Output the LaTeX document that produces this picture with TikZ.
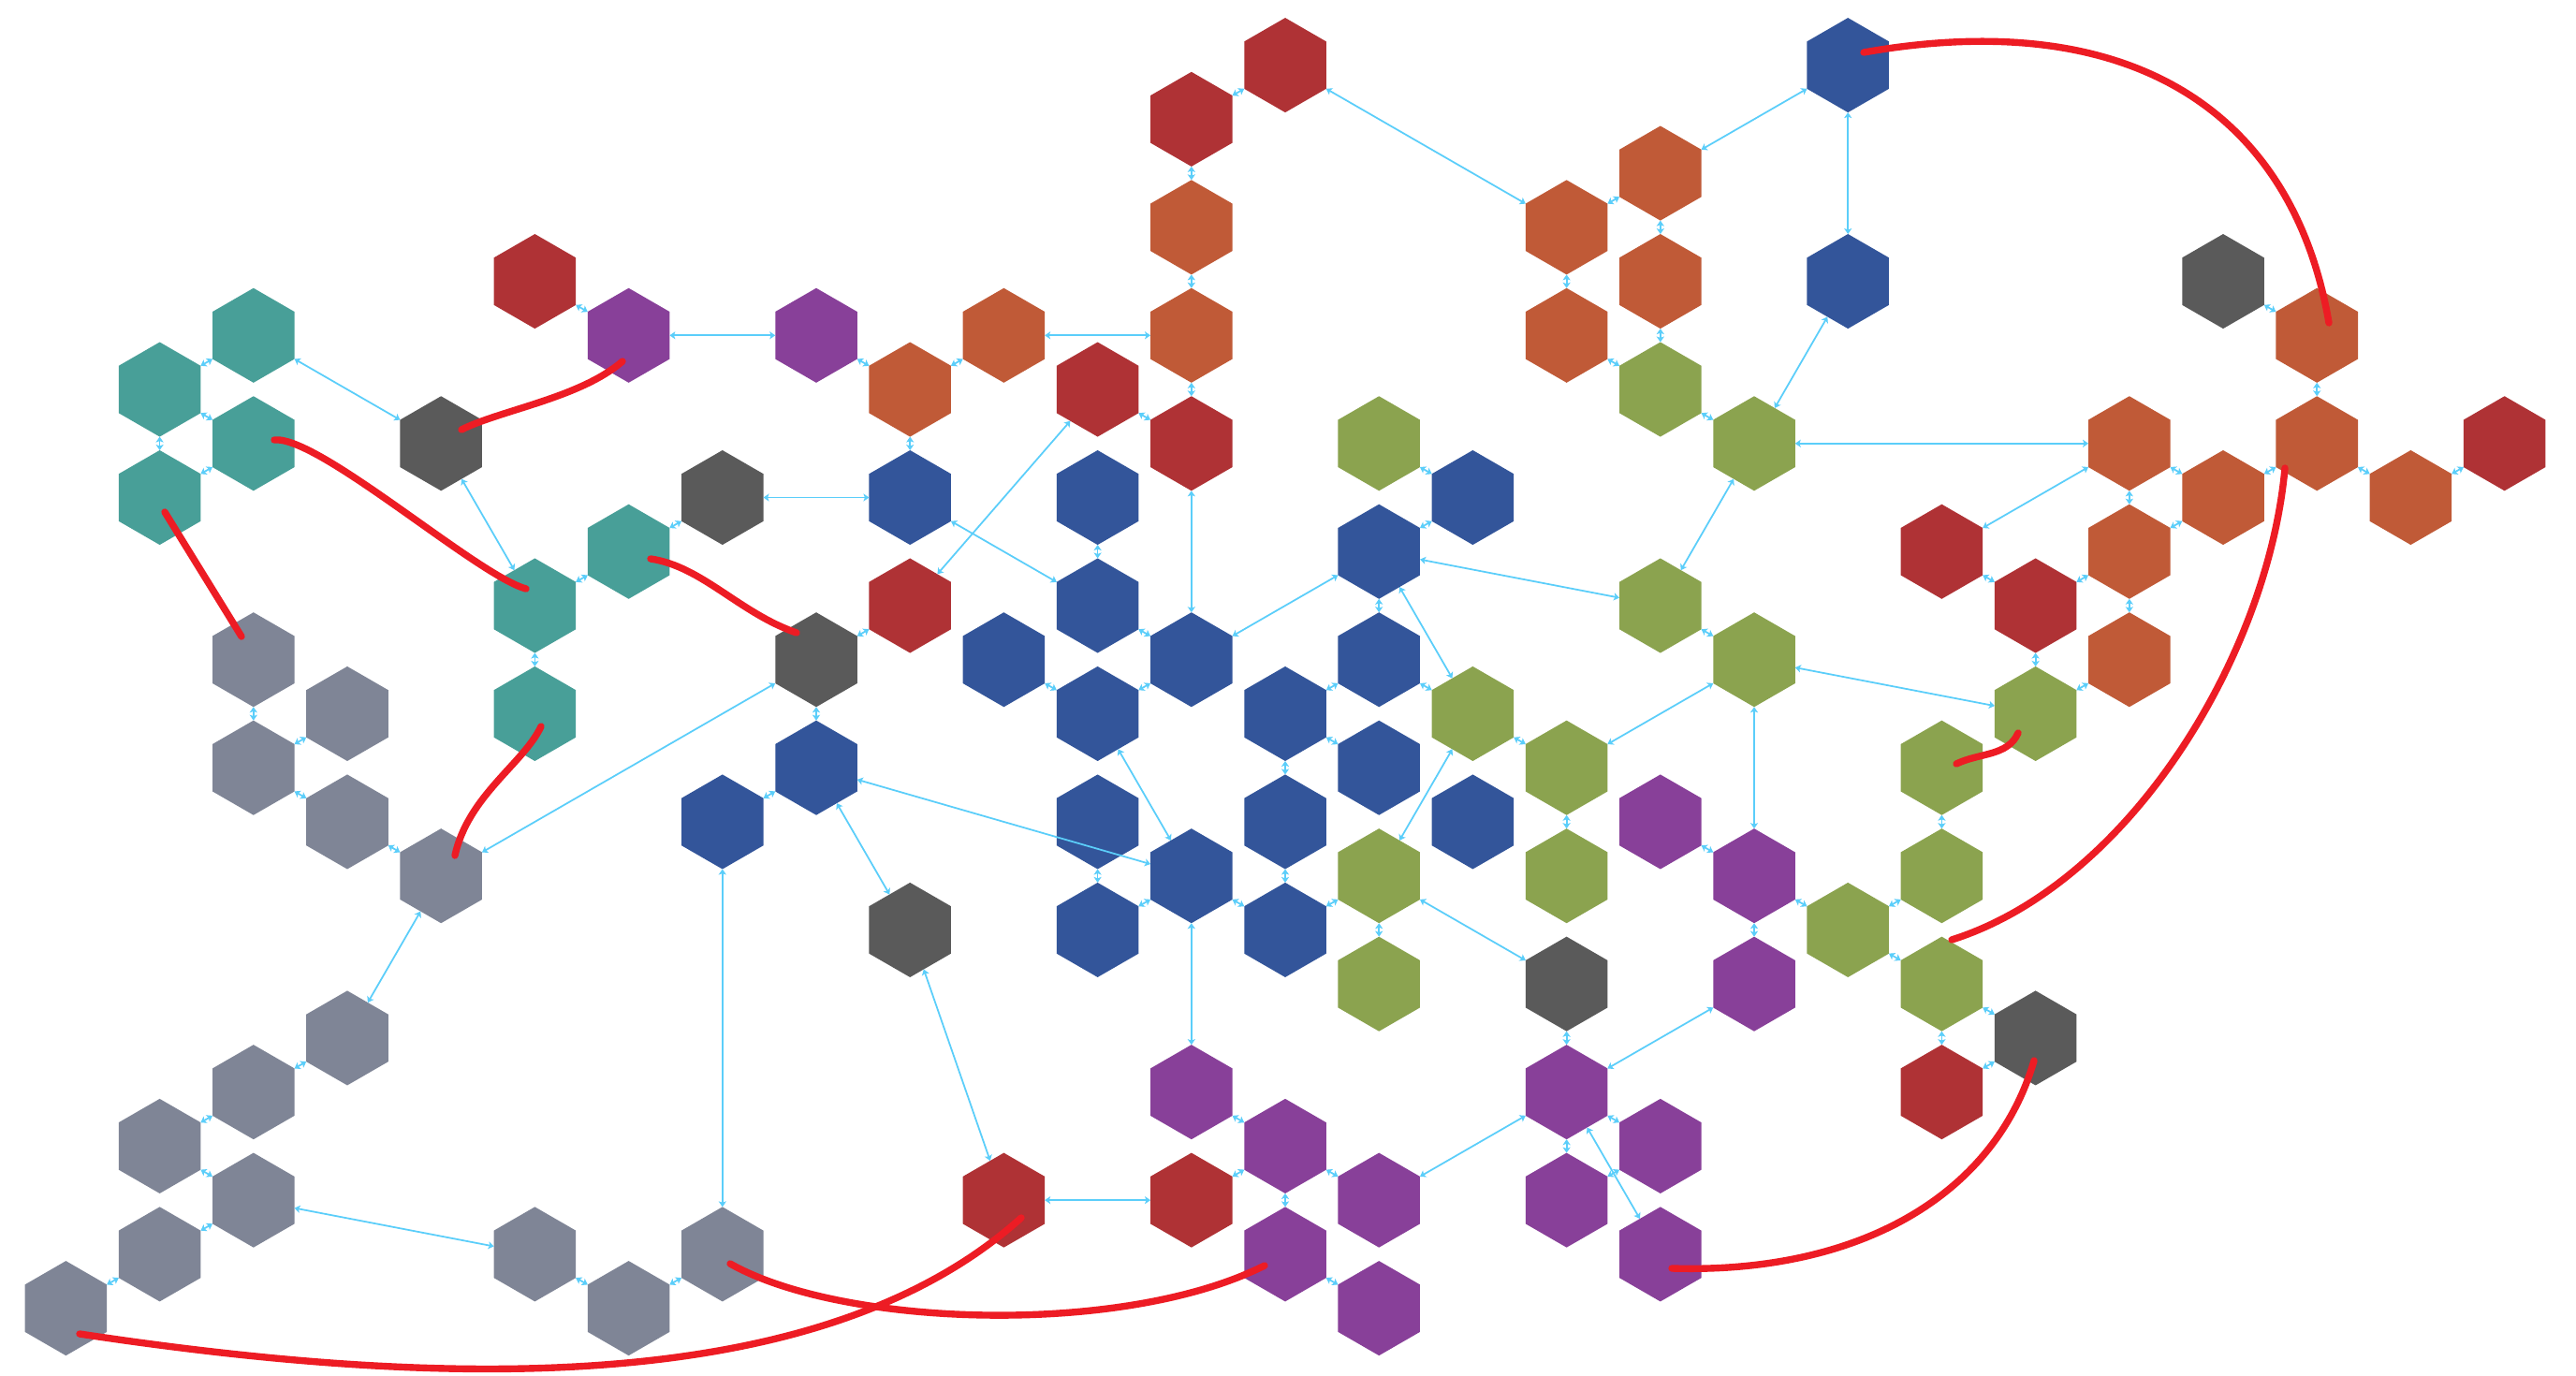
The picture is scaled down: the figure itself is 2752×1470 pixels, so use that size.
\documentclass[tikz,border=0pt]{standalone}
\usetikzlibrary{shapes.geometric,arrows.meta}
\definecolor{cRed}{HTML}{AF3235}
\definecolor{cOra}{HTML}{C05A37}
\definecolor{cTeal}{HTML}{489F98}
\definecolor{cDark}{HTML}{5A5A5A}
\definecolor{cPur}{HTML}{884099}
\definecolor{cGray}{HTML}{7F8596}
\definecolor{cBlue}{HTML}{33559A}
\definecolor{cGreen}{HTML}{8BA34F}
\definecolor{cCyan}{HTML}{5BCEFA}
\definecolor{cStroke}{HTML}{ED1C24}
\begin{document}
\begin{tikzpicture}[x=0.01cm,y=-0.01cm,
  hex/.style={regular polygon,regular polygon sides=6,shape border rotate=30,
    minimum size=1.01cm,inner sep=0pt,outer sep=0pt,fill=#1},
  conn/.style={draw=cCyan,line width=0.5pt,
    {Stealth[length=1.7pt,width=2.3pt,inset=0.4pt]}-{Stealth[length=1.7pt,width=2.3pt,inset=0.4pt]}},
  redstroke/.style={draw=cStroke,line width=2.1pt,line cap=round,line join=round}]
\useasboundingbox (0,0) rectangle (2752,1470);
\fill[white] (0,0) rectangle (2752,1470);
% hexagons
\foreach \i/\j/\c in {
  13/0/cRed,12/1/cRed,12/7/cRed,11/6/cRed,5/4/cRed,9/10/cRed,10/21/cRed,12/21/cRed,20/19/cRed,21/10/cRed,20/9/cRed,26/7/cRed,
  12/3/cOra,12/5/cOra,10/5/cOra,9/6/cOra,22/11/cOra,22/9/cOra,22/7/cOra,23/8/cOra,24/7/cOra,25/8/cOra,24/5/cOra,17/2/cOra,16/3/cOra,17/4/cOra,16/5/cOra,
  2/5/cTeal,1/6/cTeal,2/7/cTeal,1/8/cTeal,6/9/cTeal,5/10/cTeal,5/12/cTeal,
  4/7/cDark,7/8/cDark,8/11/cDark,9/16/cDark,16/17/cDark,21/18/cDark,23/4/cDark,
  8/5/cPur,6/5/cPur,12/19/cPur,13/20/cPur,13/22/cPur,14/21/cPur,14/23/cPur,16/19/cPur,16/21/cPur,17/20/cPur,17/22/cPur,18/17/cPur,18/15/cPur,17/14/cPur,
  2/11/cGray,3/12/cGray,2/13/cGray,3/14/cGray,4/15/cGray,3/18/cGray,2/19/cGray,1/20/cGray,2/21/cGray,1/22/cGray,0/23/cGray,5/22/cGray,6/23/cGray,7/22/cGray,
  9/8/cBlue,8/13/cBlue,7/14/cBlue,19/0/cBlue,19/4/cBlue,15/8/cBlue,14/9/cBlue,14/11/cBlue,14/13/cBlue,15/14/cBlue,13/12/cBlue,13/14/cBlue,13/16/cBlue,12/11/cBlue,12/15/cBlue,11/8/cBlue,11/10/cBlue,11/12/cBlue,11/14/cBlue,11/16/cBlue,10/11/cBlue,
  20/15/cGreen,20/17/cGreen,20/13/cGreen,19/16/cGreen,21/12/cGreen,17/6/cGreen,18/7/cGreen,17/10/cGreen,18/11/cGreen,14/7/cGreen,15/12/cGreen,16/13/cGreen,16/15/cGreen,14/15/cGreen,14/17/cGreen}
  \node[hex=\c] (h\i-\j) at ({70.4+100.2*\i},{69.6+57.74*\j}) {};
% connectors
\foreach \a/\b in {
  1-6/2-5,1-6/2-7,1-6/1-8,1-8/2-7,2-5/4-7,4-7/5-10,5-4/6-5,6-5/8-5,8-5/9-6,9-6/10-5,
  10-5/12-5,12-5/12-3,12-3/12-1,12-1/13-0,13-0/16-3,12-5/12-7,11-6/12-7,9-6/9-8,7-8/9-8,
  11-6/9-10,9-8/11-10,11-8/11-10,12-7/12-11,11-10/12-11,12-11/14-9,14-9/15-8,14-7/15-8,
  14-9/14-11,14-9/17-10,14-9/15-12,18-7/17-10,17-10/18-11,17-6/18-7,17-6/17-4,17-4/17-2,
  16-5/17-6,16-5/16-3,16-3/17-2,17-2/19-0,19-0/19-4,19-4/18-7,18-7/22-7,20-9/22-7,
  22-7/23-8,22-7/22-9,22-9/23-8,23-8/24-7,24-7/24-5,24-5/23-4,24-7/25-8,25-8/26-7,
  20-9/21-10,21-10/22-9,22-9/22-11,21-10/21-12,21-12/22-11,18-11/21-12,20-13/20-15,
  20-15/19-16,19-16/18-15,19-16/20-17,18-15/18-17,18-11/18-15,18-15/17-14,20-17/20-19,
  20-17/21-18,20-19/21-18,18-17/16-19,16-17/16-19,14-15/16-17,14-15/14-17,13-16/14-15,
  12-15/13-16,11-16/12-15,11-14/11-16,13-14/13-16,13-12/13-14,13-12/14-13,14-11/15-12,
  13-12/14-11,15-12/16-13,16-13/16-15,16-13/18-11,15-12/14-15,11-12/12-15,8-13/12-15,
  8-13/9-16,9-16/10-21,10-21/12-21,12-21/13-20,12-19/13-20,12-15/12-19,13-20/13-22,
  13-20/14-21,13-22/14-23,14-21/16-19,16-19/17-20,16-19/16-21,16-21/17-20,16-19/17-22,
  10-11/11-12,11-12/12-11,8-11/9-10,8-11/8-13,8-13/7-14,7-14/7-22,7-22/6-23,6-23/5-22,
  2-21/5-22,2-21/1-20,2-21/1-22,1-22/0-23,1-20/2-19,2-19/3-18,3-18/4-15,4-15/3-14,
  3-14/2-13,2-13/3-12,2-13/2-11,4-15/8-11,5-10/5-12,5-10/6-9,6-9/7-8}
  \draw[conn] (h\a) -- (h\b);
% red freehand strokes
\draw[redstroke] (493,459) .. controls (535,438) and (620,425) .. (665,386);
\draw[redstroke] (293,470) .. controls (340,465) and (510,615) .. (562,629);
\draw[redstroke] (176,547) -- (258,680);
\draw[redstroke] (695,597) .. controls (750,605) and (790,655) .. (851,676);
\draw[redstroke] (578,776) .. controls (560,815) and (500,850) .. (486,914);
\draw[redstroke] (1991,56) .. controls (2286,4) and (2451,128) .. (2488,345);
\draw[redstroke] (2441,500) .. controls (2423,700) and (2275,944) .. (2085,1004);
\draw[redstroke] (2090,816) .. controls (2115,804) and (2145,808) .. (2156,783);
\draw[redstroke] (2173,1133) .. controls (2131,1277) and (1986,1361) .. (1786,1355);
\draw[redstroke] (780,1350) .. controls (900,1418) and (1200,1428) .. (1351,1352);
\draw[redstroke] (85,1425) .. controls (450,1480) and (870,1500) .. (1091,1301);
\end{tikzpicture}
\end{document}
